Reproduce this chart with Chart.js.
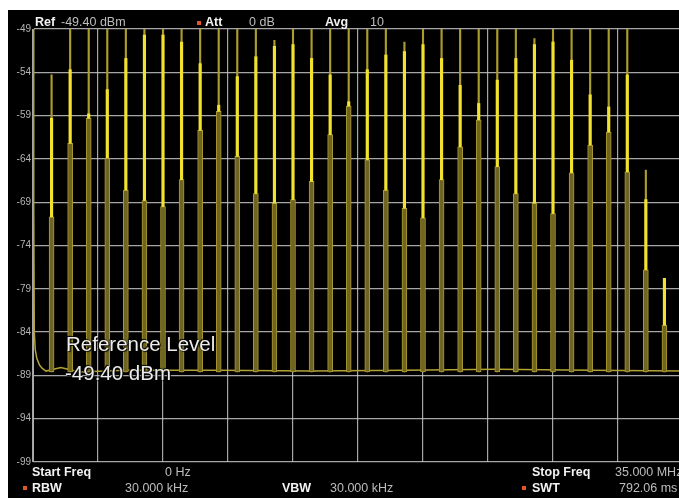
<!DOCTYPE html>
<html>
<head>
<meta charset="utf-8">
<script src="https://cdn.jsdelivr.net/npm/chart.js@4.4.1/dist/chart.umd.min.js"></script>
<style>
  html, body { margin:0; padding:0; width:679px; height:498px; overflow:hidden; background:#fff; }
  #screen { position:absolute; left:8px; top:10px; width:692px; height:488px; background:#000; }
  #screen canvas { position:absolute; left:0; top:0; }
  .t { position:absolute; font-family:"Liberation Sans", Arial, sans-serif; font-size:12.5px; line-height:1; white-space:nowrap; }
  .lb { color:#f2f2f2; font-weight:bold; }
  .vl { color:#bdbdbd; }
  .sq { position:absolute; width:4px; height:4px; background:#e0562a; }
  .ann { position:absolute; font-family:"Liberation Sans", Arial, sans-serif; font-size:20.5px; line-height:1; color:#ececec; white-space:nowrap; text-shadow:1px 1px 1px #000, -1px -1px 1px #000; }
</style>
</head>
<body>
<div id="screen"><canvas id="c" width="692" height="488"></canvas></div>

<div class="t lb" style="left:35px; top:16px;">Ref</div>
<div class="t vl" style="left:61px; top:16px;">-49.40 dBm</div>
<div class="sq" style="left:197px; top:21px;"></div>
<div class="t lb" style="left:205px; top:16px;">Att</div>
<div class="t vl" style="left:249px; top:16px;">0 dB</div>
<div class="t lb" style="left:325px; top:16px;">Avg</div>
<div class="t vl" style="left:370px; top:16px;">10</div>

<div class="t lb" style="left:32px; top:466px;">Start Freq</div>
<div class="t vl" style="left:165px; top:466px;">0 Hz</div>
<div class="sq" style="left:23px; top:486px;"></div>
<div class="t lb" style="left:32px; top:482px;">RBW</div>
<div class="t vl" style="left:125px; top:482px;">30.000 kHz</div>
<div class="t lb" style="left:282px; top:482px;">VBW</div>
<div class="t vl" style="left:330px; top:482px;">30.000 kHz</div>
<div class="t lb" style="left:532px; top:466px;">Stop Freq</div>
<div class="t vl" style="left:615px; top:466px;">35.000 MHz</div>
<div class="sq" style="left:522px; top:486px;"></div>
<div class="t lb" style="left:532px; top:482px;">SWT</div>
<div class="t vl" style="left:619px; top:482px;">792.06 ms</div>

<div class="ann" style="left:66px; top:334px;">Reference Level</div>
<div class="ann" style="left:65px; top:363px;">-49.40 dBm</div>

<script>
// ---- data (MHz / dBm) ----
const harmonicFreqs = [1,2,3,4,5,6,7,8,9,10,11,12,13,14,15,16,17,18,19,20,21,22,23,24,25,26,27,28,29,30,31,32,33,34];
// max-hold (thin dim trace) peak level
const maxHoldLevels = [-54.3,-49,-49,-49,-49,-49,-49,-49,-49,-49,-49,-49,-50.3,-49,-49,-49,-49,-49,-49,-50.5,-49,-49,-49,-49,-49,-49,-50.1,-49,-49,-49,-49,-49,-65.3,-77.8];
// bright yellow trace peak level
const peakLevels = [-59.3,-53.7,-58.8,-56.0,-52.4,-49.7,-49.7,-50.5,-53.0,-57.8,-54.5,-52.2,-51.0,-50.8,-52.4,-54.3,-57.4,-53.7,-52.0,-51.6,-50.8,-52.4,-55.5,-57.6,-54.9,-52.4,-50.8,-50.5,-52.6,-56.6,-58.0,-54.3,-68.7,-77.8];
// averaged (olive band) level
const avgLevels = [-70.7,-62.2,-59.3,-63.9,-67.6,-68.8,-69.5,-66.4,-60.7,-58.5,-63.7,-68.0,-69.1,-68.7,-66.6,-61.2,-57.9,-64.1,-67.6,-69.7,-70.8,-66.4,-62.6,-59.5,-64.9,-68.0,-69.1,-70.3,-65.6,-62.4,-60.9,-65.5,-76.8,-83.2];
const floorLevel = -88.6;
// DC roll-off + noise floor trace
const traceFreqs = [0, 0.04, 0.07, 0.12, 0.2, 0.35, 0.5, 0.7, 1.5, 2.5, 5, 10, 15, 20, 25, 30, 35];
const traceLevels = [-49, -70, -84, -86, -87, -87.8, -88.2, -88.5, -88.1, -88.6, -88.4, -88.4, -88.5, -88.4, -88.3, -88.4, -88.5];
// axis ticks
const yTicks = [-99,-94,-89,-84,-79,-74,-69,-64,-59,-54,-49];
const xGrid = [0,3.5,7,10.5,14,17.5,21,24.5,28,31.5,35];

const gridCol = 'rgba(195,195,195,0.85)';

new Chart(document.getElementById('c'), {
  type: 'bar',
  data: {
    datasets: [
      {
        label: 'Peak',
        data: harmonicFreqs.map((f, i) => ({ x: f, y: [avgLevels[i], peakLevels[i]] })),
        backgroundColor: 'rgb(242,226,45)',
        barThickness: 2.5, grouped: false, order: 0
      },
      {
        label: 'Average',
        data: harmonicFreqs.map((f, i) => ({ x: f, y: [floorLevel, avgLevels[i]] })),
        backgroundColor: 'rgb(112,100,33)',
        borderColor: 'rgb(170,154,50)', borderWidth: 1, borderSkipped: false,
        barThickness: 5, grouped: false, order: 1
      },
      {
        label: 'Max hold',
        data: harmonicFreqs.map((f, i) => ({ x: f, y: [floorLevel, maxHoldLevels[i]] })),
        backgroundColor: 'rgb(172,156,46)',
        barThickness: 1.5, grouped: false, order: 2
      },
      {
        type: 'line',
        label: 'Trace',
        data: traceFreqs.map((f, i) => ({ x: f, y: traceLevels[i] })),
        borderColor: 'rgb(180,162,52)', borderWidth: 1.5,
        pointRadius: 0, tension: 0, order: 3
      }
    ]
  },
  options: {
    responsive: false, animation: false, devicePixelRatio: 1,
    layout: { padding: { top: 19, bottom: 36, left: 0, right: 17 } },
    plugins: { legend: { display: false }, tooltip: { enabled: false } },
    scales: {
      x: {
        type: 'linear', min: 0, max: 35, offset: false,
        afterBuildTicks: s => { s.ticks = xGrid.map(v => ({ value: v })); },
        afterFit: s => { s.height = 0; },
        ticks: { display: false },
        grid: { color: gridCol, lineWidth: 1.2, drawTicks: false, offset: false },
        border: { display: false }
      },
      y: {
        min: -99, max: -49,
        afterBuildTicks: s => { s.ticks = yTicks.map(v => ({ value: v })); },
        afterFit: s => { s.width = 25; },
        ticks: {
          color: '#b4b4b4', padding: 2,
          font: { family: 'Liberation Sans, Arial, sans-serif', size: 10 }
        },
        grid: { color: gridCol, lineWidth: 1.2, drawTicks: false },
        border: { color: gridCol }
      }
    }
  }
});
</script>
</body>
</html>
